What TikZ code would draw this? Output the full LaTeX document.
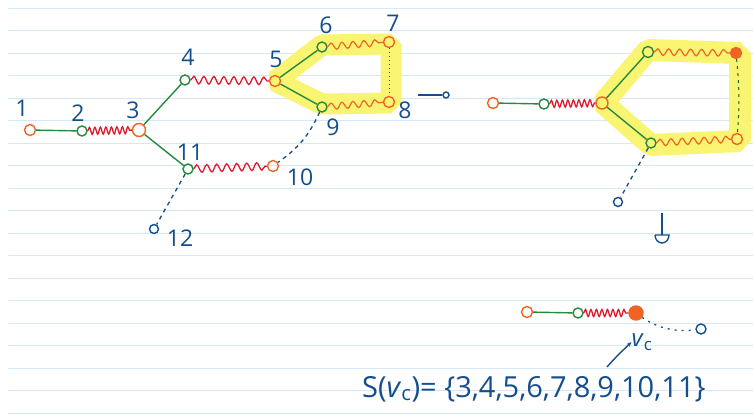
\documentclass[tikz,border=0pt]{standalone}
\usepackage{fontspec}
\setmainfont{Open Sans}
\usetikzlibrary{decorations.pathmorphing,arrows.meta}
\definecolor{ink}{RGB}{20,78,140}
\definecolor{ora}{RGB}{240,100,35}
\definecolor{grn}{RGB}{35,140,60}
\definecolor{rd}{RGB}{225,25,45}
\definecolor{rulec}{RGB}{212,232,247}
\definecolor{hl}{RGB}{250,244,115}
\begin{document}
\begin{tikzpicture}[x=1pt,y=-1pt,
 vo/.style={circle,draw=ora,line width=1.4pt,minimum size=11pt,inner sep=0},
 vof/.style={circle,draw=ora,fill=ora,line width=1.4pt,minimum size=11pt,inner sep=0},
 vg/.style={circle,draw=grn,line width=1.4pt,minimum size=10pt,inner sep=0},
 vb/.style={circle,draw=ink,line width=1.4pt,minimum size=9pt,inner sep=0},
 lab/.style={text=ink,font=\fontsize{23}{23}\selectfont,inner sep=0},
 gline/.style={draw=grn,line width=1.4pt},
 coil/.style={draw=rd,line width=1.3pt,decorate,decoration={snake,segment length=5.5pt,amplitude=3.5pt}},
 wave/.style={draw=rd,line width=1.3pt,decorate,decoration={snake,segment length=10pt,amplitude=3.8pt}},
 owave/.style={draw=ora,line width=1.2pt,decorate,decoration={snake,segment length=11pt,amplitude=3.3pt}},
 bdash/.style={draw=ink,line width=1.3pt,dash pattern=on 4pt off 4pt},
 gdot/.style={draw=grn!70!black,line width=1pt,dash pattern=on 1pt off 3pt},
 hlstroke/.style={draw=hl,line width=21pt,line join=bevel},
]
\useasboundingbox[fill=white] (0,0) rectangle (753,418);
\foreach \k in {0,...,18} \draw[rulec,line width=1pt] (8,{8.3+22.5*\k}) -- (753,{8.3+22.5*\k});

% ---------- left graph ----------
\coordinate (h5) at (275,81);
\coordinate (h6) at (322,45);
\coordinate (h7) at (391,44);
\coordinate (h8) at (391,103);
\coordinate (h9) at (322,104);
\draw[hlstroke] (h5) -- (h6) -- (h7) -- (h8) -- (h9) -- cycle;

\node[vo] (n1) at (30,130) {};
\node[vg] (n2) at (82,131) {};
\node[vo,minimum size=13pt] (n3) at (139,130) {};
\node[vg] (n4) at (185,80) {};
\node[vo] (n5) at (275,81) {};
\node[vg] (n6) at (322,47) {};
\node[vo] (n7) at (389,42) {};
\node[vo] (n8) at (389,102) {};
\node[vg] (n9) at (322,107) {};
\node[vo] (n10) at (273,166) {};
\node[vg] (n11) at (188,169) {};
\node[vb] (n12) at (154,229) {};
\node[vb,minimum size=6pt] (n8x) at (446,95) {};
\coordinate (n8s) at (418,95);

\draw[gline] (n1) -- (n2);
\draw[coil] (n2) -- (n3);
\draw[gline] (n3) -- (n4);
\draw[gline] (n3) -- (n11);
\draw[wave] (n4) -- (n5);
\draw[wave] (n11) -- (n10);
\draw[gline] (n5) -- (n6);
\draw[gline] (n5) -- (n9);
\draw[owave] (n6) -- (n7);
\draw[owave] (n9) -- (n8);
\draw[gdot] (n7) -- (n8);
\draw[bdash] (n9) to[bend left=15] (n10);
\draw[bdash] (n11) -- (n12);
\draw[ink,line width=1.4pt] (n8s) -- (n8x);

\node[lab] (l1) at (22,108) {1};
\node[lab] (l2) at (78,113) {2};
\node[lab] (l3) at (133,110) {3};
\node[lab] (l4) at (188,57) {4};
\node[lab] (l5) at (276,59) {5};
\node[lab] (l6) at (326,25) {6};
\node[lab] (l7) at (393,23) {7};
\node[lab] (l8) at (405,110) {8};
\node[lab] (l9) at (333,127) {9};
\node[lab] (l10) at (300,177) {10};
\node[lab] (l11) at (190,152) {11};
\node[lab] (l12) at (180,238) {12};

% ---------- right graph ----------
\coordinate (hc) at (603,103);
\coordinate (ht) at (648,50);
\coordinate (htr) at (740,53);
\coordinate (hbr) at (740,141);
\coordinate (hbt) at (651,145);
\draw[hlstroke,line width=22pt] (hc) -- (ht) -- (htr) -- (hbr) -- (hbt) -- cycle;

\node[vo] (ra) at (493,103) {};
\node[vg] (rb) at (544,104) {};
\node[vo,minimum size=12pt] (rc) at (602,103) {};
\node[vg,minimum size=11pt] (rt) at (648,52) {};
\node[vof,minimum size=11pt] (rtr) at (736,53) {};
\node[vo] (rbr) at (737,139) {};
\node[vg,minimum size=10pt] (rbt) at (651,143) {};
\node[vb] (rx) at (618,202) {};
\coordinate (pin1) at (662,213);
\coordinate (pin2) at (662,235);

\draw[gline] (ra) -- (rb);
\draw[coil] (rb) -- (rc);
\draw[gline] (rc) -- (rt);
\draw[gline] (rc) -- (rbt);
\draw[owave] (rt) -- (rtr);
\draw[owave] (rbt) -- (rbr);
\draw[gdot,dash pattern=on 3pt off 4pt] (rtr) to[bend left=5] (rbr);
\draw[bdash] (rbt) -- (rx);
\draw[ink,line width=1.4pt] (pin1) -- (pin2);
\draw[ink,line width=1.4pt] (655,235) -- (669,235) arc[start angle=0,end angle=180,x radius=7pt,y radius=-8pt];

% ---------- bottom graph ----------
\node[vo] (ba) at (527,312) {};
\node[vg] (bb) at (578,313) {};
\node[vof,minimum size=14pt] (bc) at (636,313) {};
\node[vb,minimum size=10pt] (bx) at (701,329) {};
\draw[gline] (ba) -- (bb);
\draw[coil] (bb) -- (bc);
\draw[ink,line width=1.3pt,dash pattern=on 2pt off 5pt] (bc) .. controls (660,330) and (680,332) .. (bx);
\node[text=ink,font=\fontsize{24}{24}\selectfont,inner sep=0] (vc) at (642,342) {\textit{v}\textsubscript{c}};
\coordinate (vcs) at (607,367);
\draw[ink,line width=1.4pt,-{Stealth[length=5pt]}] (vcs) .. controls (615,358) .. (vc.west);
\node[text=ink,font=\fontsize{29}{29}\selectfont,anchor=west,inner sep=0] (sv) at (362,389) {S(\textit{v}\textsubscript{c})= \{3,4,5,6,7,8,9,10,11\}};
\end{tikzpicture}
\end{document}
